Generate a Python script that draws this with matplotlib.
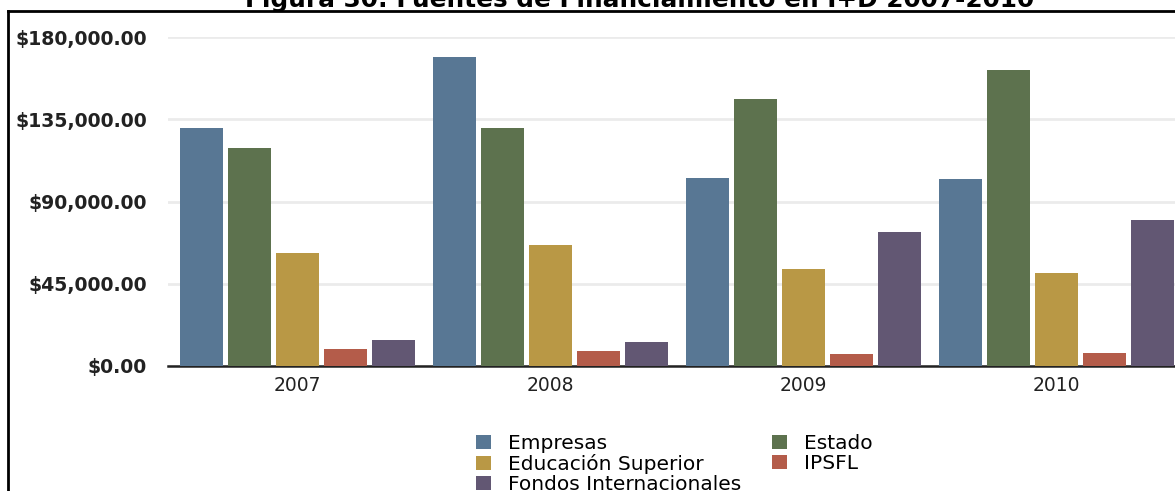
import matplotlib
matplotlib.use("Agg")
import matplotlib.pyplot as plt
import numpy as np
from matplotlib.lines import Line2D
from matplotlib.patches import Patch

# Fuentes de financiamiento en I+D por año (USD)
years = ["2007", "2008", "2009", "2010"]
sources = ["Empresas", "Estado", "Educación Superior", "IPSFL", "Fondos Internacionales"]
empresas = [130100, 169000, 103000, 102200]
estado = [119200, 130100, 146000, 162000]
educacion = [61900, 66200, 53000, 51000]
ipsfl = [9200, 8100, 6400, 7100]
fondos = [14100, 13000, 73300, 79900]
colors = ["#587794", "#5d724e", "#b99845", "#b45c4a", "#625773"]
yticks = [0, 45000, 90000, 135000, 180000]

W, H = 1175, 491
fig = plt.figure(figsize=(W / 100, H / 100), dpi=100)
fig.patch.set_facecolor("white")

# axes reaches past the right edge of the figure on purpose
ax = fig.add_axes([168 / W, 125 / H, 1018 / W, 329 / H])
x = np.arange(len(years))
step, width = 0.1895, 0.17
series = [empresas, estado, educacion, ipsfl, fondos]
for k, vals in enumerate(series):
    ax.bar(x + (k - 2) * step, vals, width, color=colors[k], edgecolor="none",
           zorder=3, label=sources[k])

ax.set_xlim(-0.51, 3.51)
ax.set_ylim(0, 180000)
ax.set_yticks(yticks)
ax.set_yticklabels(["${:,.2f}".format(v) for v in yticks],
                   fontsize=13.6, fontweight="bold", color="#222222")
ax.set_xticks(x)
ax.set_xticklabels(years, fontsize=13.5, color="#222222")
ax.tick_params(axis="y", length=0, pad=15)
ax.tick_params(axis="x", length=0, pad=7)
ax.grid(axis="y", color="#ebebeb", linewidth=2, zorder=0)
for s in ["top", "right", "left"]:
    ax.spines[s].set_visible(False)
ax.spines["bottom"].set_linewidth(1.8)
ax.spines["bottom"].set_color("#222222")

# outer frame
fig.add_artist(Line2D([8 / W, 8 / W], [0, 1 - 11 / H], transform=fig.transFigure,
                      color="black", linewidth=2))
fig.add_artist(Line2D([8 / W, 1.0], [1 - 11 / H, 1 - 11 / H], transform=fig.transFigure,
                      color="black", linewidth=2))

fig.text(640 / W, 1 - 7 / H, "Figura 30: Fuentes de Financiamiento en I+D 2007-2010",
         ha="center", va="baseline", fontsize=17.8, fontweight="bold")

order = [0, 2, 4, 1, 3]
handles = [Patch(facecolor=colors[i], edgecolor="none") for i in order]
labels = [sources[i] for i in order]
fig.legend(handles, labels, ncol=2, frameon=False, loc="upper left",
           bbox_to_anchor=(476 / W, 1 - 434 / H), fontsize=14.5,
           handlelength=0.75, handleheight=0.75, handletextpad=0.85,
           labelspacing=0.05, columnspacing=1.5, borderpad=0, borderaxespad=0)

fig.savefig("out.png", dpi=100)
